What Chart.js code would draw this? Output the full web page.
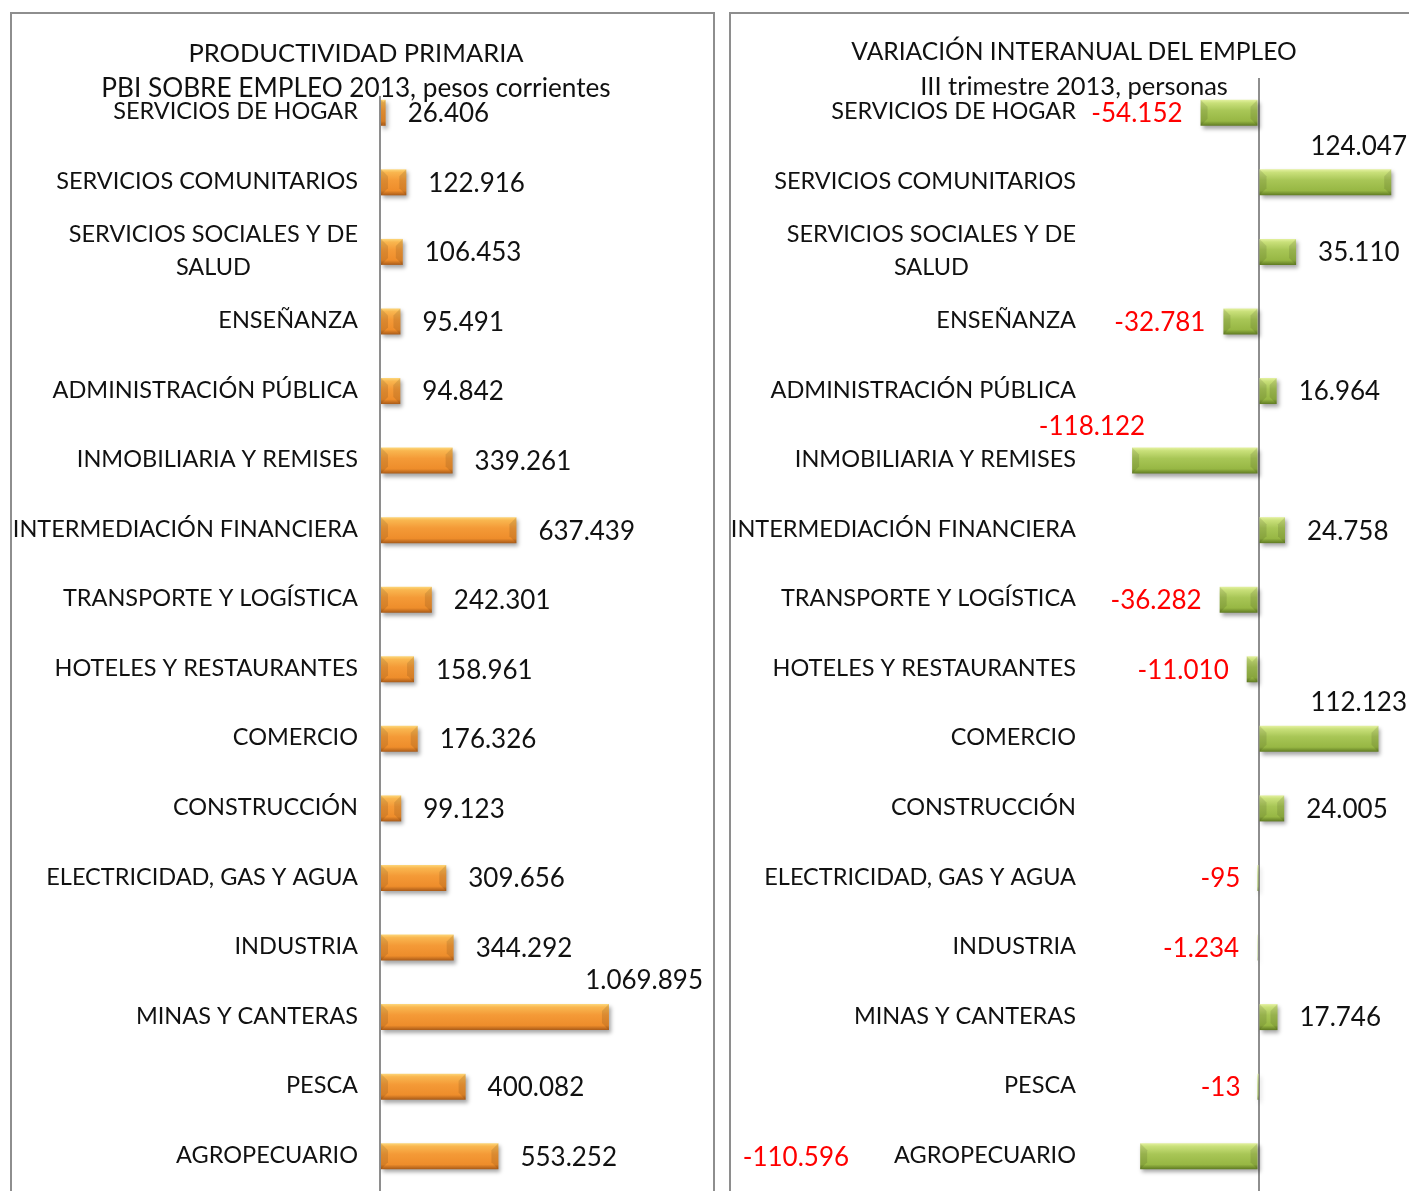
<!DOCTYPE html>
<html>
<head>
<meta charset="utf-8">
<script src="https://cdn.jsdelivr.net/npm/chart.js@4.4.1/dist/chart.umd.min.js"></script>
<style>
  body { margin: 0; background: #fff; overflow: hidden; width: 1409px; height: 1191px; position: relative; font-family: Lato, sans-serif; }
  .panel { position: absolute; top: 12px; height: 1300px; border: 2px solid #8e8e8e; box-sizing: border-box; }
  canvas { position: absolute; top: 0; }
  .title { position: absolute; text-align: center; font-size: 25.5px; color: #111; white-space: nowrap; line-height: 24px; }
  .title span { background: linear-gradient(#fff, #fff) no-repeat top; background-size: 100% 78%; }
</style>
</head>
<body>
<div class="panel" style="left:10px; width:705px;"></div>
<div class="panel" style="left:729px; width:800px;"></div>
<canvas id="prodChart" width="715" height="1191" style="left:0"></canvas>
<canvas id="empChart" width="715" height="1191" style="left:718px"></canvas>
<div class="title" style="left:56px; width:600px; top:40px;">PRODUCTIVIDAD PRIMARIA</div>
<div class="title" style="left:56px; width:600px; top:75px; font-size:26.2px;"><span>PBI SOBRE EMPLEO 2013, pesos corrientes</span></div>
<div class="title" style="left:774px; width:600px; top:39px; font-size:24.6px;">VARIACIÓN INTERANUAL DEL EMPLEO</div>
<div class="title" style="left:774px; width:600px; top:73px;">III trimestre 2013, personas</div>
<script>
// Sectors, top to bottom
const sectors = ['SERVICIOS DE HOGAR', 'SERVICIOS COMUNITARIOS', ['SERVICIOS SOCIALES Y DE', 'SALUD'],
  'ENSEÑANZA', 'ADMINISTRACIÓN PÚBLICA', 'INMOBILIARIA Y REMISES', 'INTERMEDIACIÓN FINANCIERA',
  'TRANSPORTE Y LOGÍSTICA', 'HOTELES Y RESTAURANTES', 'COMERCIO', 'CONSTRUCCIÓN',
  'ELECTRICIDAD, GAS Y AGUA', 'INDUSTRIA', 'MINAS Y CANTERAS', 'PESCA', 'AGROPECUARIO'];

// PBI sobre empleo 2013, pesos corrientes
const productividad = [26406, 122916, 106453, 95491, 94842, 339261, 637439, 242301,
  158961, 176326, 99123, 309656, 344292, 1069895, 400082, 553252];

// Variacion interanual del empleo, III trimestre 2013, personas
const variacionEmpleo = [-54152, 124047, 35110, -32781, 16964, -118122, 24758, -36282,
  -11010, 112123, 24005, -95, -1234, 17746, -13, -110596];

const LABEL_FONT = '23.5px Lato';
const VALUE_FONT = '26px Lato';

function fmt(v) {
  const s = Math.abs(v).toString().replace(/\B(?=(\d{3})+(?!\d))/g, '.');
  return (v < 0 ? '-' : '') + s;
}

function barGradient(stops) {
  return function (context) {
    const chart = context.chart;
    if (!chart.chartArea || !chart.scales.y) return stops[2];
    const y = chart.scales.y.getPixelForValue(context.dataIndex);
    const h = 13;
    const g = chart.ctx.createLinearGradient(0, y - h, 0, y + h);
    g.addColorStop(0, stops[0]);
    g.addColorStop(0.12, stops[1]);
    g.addColorStop(0.42, stops[2]);
    g.addColorStop(0.82, stops[3]);
    g.addColorStop(1, stops[4]);
    return g;
  };
}

// shadow under the bars, bevelled ends, category labels and value labels
function makeLabelPlugin(farIndex, maxRight) {
  return {
    id: 'sectorLabels',
    beforeDatasetsDraw(chart) {
      const ctx = chart.ctx;
      ctx.save();
      ctx.shadowColor = 'rgba(0,0,0,0.35)';
      ctx.shadowBlur = 4;
      ctx.shadowOffsetX = 2;
      ctx.shadowOffsetY = 3;
    },
    afterDatasetsDraw(chart) {
      const ctx = chart.ctx;
      ctx.restore();
      const area = chart.chartArea;
      const yScale = chart.scales.y;
      const meta = chart.getDatasetMeta(0);
      const values = chart.data.datasets[0].data;

      // bevel on the bar ends
      ctx.save();
      meta.data.forEach(bar => {
        const l = Math.min(bar.x, bar.base), r = Math.max(bar.x, bar.base);
        const t = bar.y - bar.height / 2, b = bar.y + bar.height / 2;
        const d = Math.min(7, (r - l) / 2);
        if (d < 2) return;
        ctx.fillStyle = 'rgba(0,0,0,0.10)';
        ctx.beginPath();
        ctx.moveTo(l, t); ctx.lineTo(l + d, t + d); ctx.lineTo(l + d, b - d); ctx.lineTo(l, b);
        ctx.closePath(); ctx.fill();
        ctx.beginPath();
        ctx.moveTo(r, t); ctx.lineTo(r - d, t + d); ctx.lineTo(r - d, b - d); ctx.lineTo(r, b);
        ctx.closePath(); ctx.fill();
      });
      ctx.restore();

      ctx.save();
      ctx.textBaseline = 'middle';
      chart.data.labels.forEach((lab, i) => {
        const lines = Array.isArray(lab) ? lab : [lab];
        const cy = yScale.getPixelForValue(i);
        const right = area.left - 22;
        ctx.font = LABEL_FONT;
        const blockW = Math.max(...lines.map(l => ctx.measureText(l).width));
        const labelLeft = right - blockW;
        ctx.fillStyle = '#111';
        ctx.textAlign = 'center';
        lines.forEach((l, k) => {
          ctx.fillText(l, right - blockW / 2, cy - 1 + (k - (lines.length - 1) / 2) * 33);
        });

        ctx.font = VALUE_FONT;
        const v = values[i];
        const bar = meta.data[i];
        const txt = fmt(v);
        const w = ctx.measureText(txt).width;
        ctx.fillStyle = v < 0 ? '#ff0000' : '#111';
        if (i === farIndex) {
          ctx.textAlign = 'right';
          ctx.fillText(txt, labelLeft - 45, cy + 1);
        } else if (v >= 0) {
          if (bar.x + 22 + w > area.right + 10) {
            ctx.textAlign = 'right';
            ctx.fillText(txt, maxRight, cy - 36);
          } else {
            ctx.textAlign = 'left';
            ctx.fillText(txt, bar.x + 22, cy + 1);
          }
        } else {
          ctx.textAlign = 'right';
          if (bar.x - 18 - w < right + 10) {
            ctx.fillText(txt, bar.x + 13, cy - 34);
          } else {
            ctx.fillText(txt, bar.x - 18, cy + 1);
          }
        }
      });
      ctx.restore();
    }
  };
}

function makeChart(id, values, xMin, xMax, colors, farIndex, maxRight) {
  return new Chart(document.getElementById(id), {
    type: 'bar',
    data: {
      labels: sectors,
      datasets: [{
        data: values,
        backgroundColor: barGradient(colors),
        borderWidth: 0,
        barPercentage: 0.374,
        categoryPercentage: 1
      }]
    },
    options: {
      indexAxis: 'y',
      responsive: false,
      animation: false,
      layout: { padding: { top: 78, right: 14, bottom: 0, left: 0 } },
      plugins: { legend: { display: false }, title: { display: false }, tooltip: { enabled: false } },
      scales: {
        x: {
          min: xMin, max: xMax,
          ticks: { display: false },
          border: { display: false },
          grid: {
            drawTicks: false,
            lineWidth: 2,
            color: ctx => ctx.tick && ctx.tick.value === 0 ? '#8e8e8e' : 'rgba(0,0,0,0)'
          },
          afterFit: axis => { axis.height = 0; }
        },
        y: {
          ticks: { display: false },
          border: { display: false },
          grid: { display: false },
          afterFit: axis => { axis.width = 380; }
        }
      }
    },
    plugins: [makeLabelPlugin(farIndex, maxRight)]
  });
}

makeChart('prodChart', productividad, 0, 1500000,
  ['#fdd77a', '#f9b64f', '#f49a37', '#ee8d2b', '#a85a18'], -1, 703);
makeChart('empChart', variacionEmpleo, -150000, 150000,
  ['#e4f1a0', '#c9e07a', '#a8c656', '#97b744', '#5f7a22'], sectors.length - 1, 689);
</script>
</body>
</html>
